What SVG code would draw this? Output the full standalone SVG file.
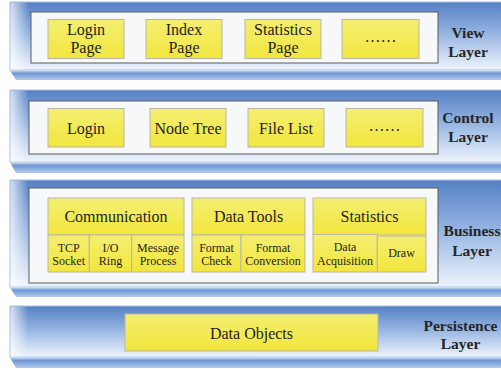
<svg xmlns="http://www.w3.org/2000/svg" width="501" height="369" viewBox="0 0 501 369">
<defs>
<linearGradient id="face" x1="0" y1="0" x2="0" y2="1">
<stop offset="0" stop-color="#5580c4"/>
<stop offset="0.45" stop-color="#93b3e1"/>
<stop offset="1" stop-color="#eff4fc"/>
</linearGradient>
<linearGradient id="lefthl" x1="0" y1="0" x2="1" y2="0">
<stop offset="0" stop-color="#ffffff" stop-opacity="0.75"/>
<stop offset="1" stop-color="#ffffff" stop-opacity="0"/>
</linearGradient>
<linearGradient id="strip" x1="0" y1="0" x2="0" y2="1">
<stop offset="0" stop-color="#c3d6f0"/>
<stop offset="0.3" stop-color="#6e97d4"/>
<stop offset="1" stop-color="#b6cbec"/>
</linearGradient>
<linearGradient id="yel" x1="0" y1="0" x2="0" y2="1">
<stop offset="0" stop-color="#f4ee72"/>
<stop offset="1" stop-color="#f2e63c"/>
</linearGradient>
<style>
.face{fill:url(#face);stroke:#a9c0e2;stroke-width:1}
.hl{fill:url(#lefthl)}
.strip{fill:url(#strip)}
.inner{fill:#f7f8f9;stroke:#5a5a5a;stroke-width:1}
.y{fill:url(#yel);stroke:#b9b7a4;stroke-width:1}
.t{font-family:"Liberation Serif","Times New Roman",serif;font-size:16px;fill:#1e1e1e;text-anchor:middle}
.s{font-family:"Liberation Serif","Times New Roman",serif;font-size:12px;fill:#1e1e1e;text-anchor:middle}
.l{font-family:"Liberation Serif","Times New Roman",serif;font-size:15.5px;font-weight:bold;fill:#262626;text-anchor:middle}
</style>
</defs>

<g id="view-layer">
<rect class="face" x="10" y="2" width="495" height="68"/>
<rect class="hl" x="10.5" y="2.5" width="18" height="67"/>
<polygon class="strip" points="10,70.5 501,70.5 501,80 16,80"/>
<rect class="inner" x="31" y="12" width="407" height="51"/>
<text class="l" x="468" y="38">View</text>
<text class="l" x="468" y="56.5">Layer</text>
</g>
<g id="login-page"><rect class="y" x="48" y="19.5" width="76" height="39"/><text class="t" x="86" y="34.5">Login</text><text class="t" x="86" y="52.7">Page</text></g>
<g id="index-page"><rect class="y" x="146" y="19.5" width="76" height="39"/><text class="t" x="184" y="34.5">Index</text><text class="t" x="184" y="52.7">Page</text></g>
<g id="statistics-page"><rect class="y" x="245" y="19.5" width="76" height="39"/><text class="t" x="283" y="34.5">Statistics</text><text class="t" x="283" y="52.7">Page</text></g>
<g id="view-more"><rect class="y" x="342" y="19.5" width="77" height="39"/><text class="t" x="380.5" y="42">……</text></g>

<g id="control-layer">
<rect class="face" x="10" y="90" width="495" height="72"/>
<rect class="hl" x="10.5" y="90.5" width="18" height="71"/>
<polygon class="strip" points="10,162.5 501,162.5 501,173 16,173"/>
<rect class="inner" x="29" y="101" width="409" height="53"/>
<text class="l" x="468" y="123">Control</text>
<text class="l" x="468" y="142">Layer</text>
</g>
<g id="login"><rect class="y" x="48" y="108.5" width="76" height="38.5"/><text class="t" x="86" y="133.5">Login</text></g>
<g id="node-tree"><rect class="y" x="150" y="108.5" width="76" height="38.5"/><text class="t" x="188" y="133.5">Node Tree</text></g>
<g id="file-list"><rect class="y" x="248" y="108.5" width="76" height="38.5"/><text class="t" x="286" y="133.5">File List</text></g>
<g id="control-more"><rect class="y" x="346" y="108.5" width="77" height="38.5"/><text class="t" x="384.5" y="131">……</text></g>

<g id="business-layer">
<rect class="face" x="10" y="180" width="495" height="107"/>
<rect class="hl" x="10.5" y="180.5" width="18" height="106"/>
<polygon class="strip" points="10,287.5 501,287.5 501,297 16,297"/>
<rect class="inner" x="29" y="188" width="409" height="95"/>
<text class="l" x="472" y="236">Business</text>
<text class="l" x="472" y="255.5">Layer</text>
</g>
<g id="communication"><rect class="y" x="48" y="198" width="136" height="37"/><text class="t" x="116" y="222">Communication</text></g>
<g id="tcp-socket"><rect class="y" x="48" y="235" width="41.3" height="37"/><text class="s" x="68.7" y="252">TCP</text><text class="s" x="68.7" y="264.5">Socket</text></g>
<g id="io-ring"><rect class="y" x="89.3" y="235" width="42.4" height="37"/><text class="s" x="110.5" y="252">I/O</text><text class="s" x="110.5" y="264.5">Ring</text></g>
<g id="message-process"><rect class="y" x="131.7" y="235" width="52.3" height="37"/><text class="s" x="158" y="252">Message</text><text class="s" x="158" y="264.5">Process</text></g>
<g id="data-tools"><rect class="y" x="192" y="198" width="113" height="37"/><text class="t" x="248.5" y="222">Data Tools</text></g>
<g id="format-check"><rect class="y" x="192" y="235" width="49" height="37"/><text class="s" x="216.5" y="252">Format</text><text class="s" x="216.5" y="264.5">Check</text></g>
<g id="format-conversion"><rect class="y" x="241" y="235" width="64" height="37"/><text class="s" x="273" y="252">Format</text><text class="s" x="273" y="264.5">Conversion</text></g>
<g id="statistics"><rect class="y" x="313" y="198" width="113" height="37"/><text class="t" x="369.5" y="222">Statistics</text></g>
<g id="data-acquisition"><rect class="y" x="313" y="234.5" width="64.3" height="37.5"/><text class="s" x="345" y="250.5">Data</text><text class="s" x="345" y="264.5">Acquisition</text></g>
<g id="draw"><rect class="y" x="377.3" y="236" width="48.7" height="36"/><text class="s" x="401.5" y="257">Draw</text></g>

<g id="persistence-layer">
<rect class="face" x="10" y="306" width="495" height="51"/>
<rect class="hl" x="10.5" y="306.5" width="18" height="50"/>
<polygon class="strip" points="10,357.5 501,357.5 501,368 16,368"/>
<text class="l" x="460.5" y="330.5">Persistence</text>
<text class="l" x="460.5" y="348.5">Layer</text>
</g>
<g id="data-objects"><rect class="y" x="125" y="314" width="253" height="37"/><text class="t" x="251.5" y="338.5">Data Objects</text></g>

<g id="connectors"></g>
</svg>
